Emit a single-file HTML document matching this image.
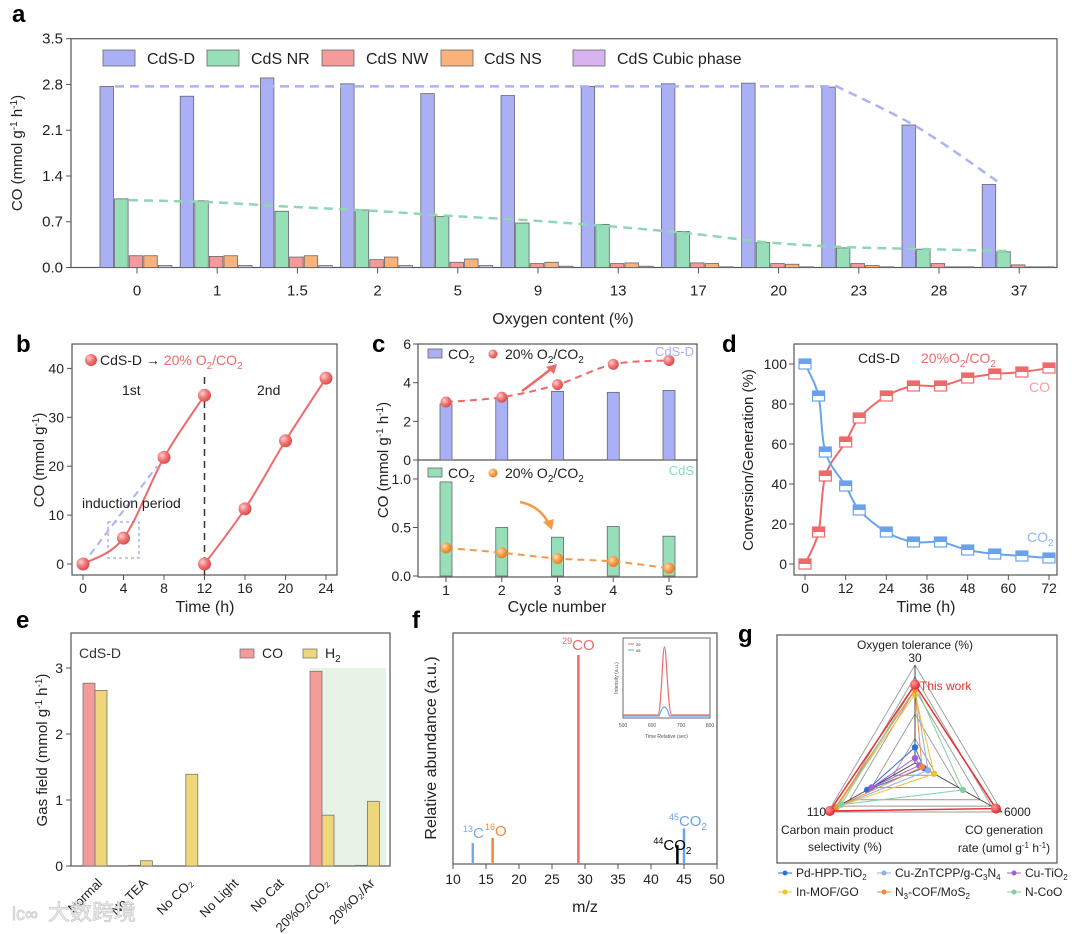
<!DOCTYPE html>
<html><head><meta charset="utf-8">
<style>
html,body{margin:0;padding:0;background:#fff;}
svg{display:block;font-family:"Liberation Sans","Noto Sans CJK SC",sans-serif;}
</style></head>
<body>
<svg id="fig" width="1080" height="934" viewBox="0 0 1080 934" xmlns="http://www.w3.org/2000/svg">
<defs>
<radialGradient id="gRed" cx="0.35" cy="0.35" r="0.7"><stop offset="0" stop-color="#ffd0d0"/><stop offset="0.5" stop-color="#f07878"/><stop offset="1" stop-color="#d84848"/></radialGradient>
<radialGradient id="gOr" cx="0.35" cy="0.35" r="0.7"><stop offset="0" stop-color="#ffe0b8"/><stop offset="0.5" stop-color="#f8a050"/><stop offset="1" stop-color="#e07a20"/></radialGradient>
<radialGradient id="gDot" cx="0.35" cy="0.35" r="0.7"><stop offset="0" stop-color="#ff9a9a"/><stop offset="1" stop-color="#e02020"/></radialGradient>
</defs>
</svg>
<script>
// ---------- DATA ----------
const aCats = ['0','1','1.5','2','5','9','13','17','20','23','28','37'];
const aCdSD = [2.77,2.62,2.90,2.81,2.66,2.63,2.77,2.81,2.82,2.76,2.18,1.27];
const aNR   = [1.05,1.02,0.86,0.88,0.78,0.68,0.66,0.55,0.38,0.30,0.28,0.24];
const aNW   = [0.18,0.17,0.16,0.12,0.08,0.06,0.06,0.07,0.06,0.06,0.06,0.04];
const aNS   = [0.18,0.18,0.18,0.16,0.13,0.08,0.07,0.06,0.05,0.03,0.01,0.01];
const aCub  = [0.03,0.03,0.03,0.03,0.03,0.02,0.02,0.01,0.01,0.01,0.01,0.01];
const aTrendD = [2.77,2.77,2.77,2.77,2.77,2.77,2.77,2.77,2.77,2.77,2.15,1.32];
const aTrendNR = [1.03,1.00,0.93,0.87,0.79,0.72,0.63,0.52,0.38,0.31,0.28,0.25];
const aTicks = [0,0.7,1.4,2.1,2.8,3.5];

const bT1 = [0,4,8,12];   const bV1 = [0,5.3,21.8,34.5];
const bT2 = [12,16,20,24]; const bV2 = [0,11.3,25.2,38];
const bTicksX = [0,4,8,12,16,20,24];
const bTicksY = [0,10,20,30,40];

const cCycles = [1,2,3,4,5];
const cTopBar = [2.9,3.2,3.55,3.5,3.6];
const cTopDot = [3.0,3.25,3.9,4.95,5.15];
const cBotBar = [0.97,0.50,0.40,0.51,0.41];
const cBotDot = [0.29,0.24,0.18,0.15,0.08];

const dTime = [0,4,6,12,16,24,32,40,48,56,64,72];
const dCO   = [0,16,44,61,73,84,89,89,93,95,96,98];
const dCO2  = [100,84,56,39,27,16,11,11,7,5,4,3];
const dTicksX = [0,12,24,36,48,60,72];
const dTicksY = [0,20,40,60,80,100];

const eCats = ['Normal','No TEA','No CO₂','No Light','No Cat','20%O₂/CO₂','20%O₂/Ar'];
const eCO = [2.77,0.01,0,0,0,2.95,0.01];
const eH2 = [2.66,0.08,1.39,0,0,0.77,0.98];

const fMZ = [13,16,29,44,45];
const fAb = [10,12.5,100,9,17];
const fCol = ['#7ba7e0','#f0883a','#ee6a6a','#000000','#6aa3ec'];

const gSeries = ['Pd-HPP-TiO₂','Cu-ZnTCPP/g-C₃N₄','Cu-TiO₂','In-MOF/GO','N₃-COF/MoS₂','N-CoO','This work'];
const gOxy  = [0.16,0.75,0.05,0.70,0.75,0.80,0.80];
const gSel  = [0.55,0.90,0.50,0.90,0.92,0.85,0.98];
const gRate = [0.10,0.15,0.05,0.22,0.08,0.55,0.93];
const gCol  = ['#2f6fd8','#8fb0e0','#a060d0','#f5c030','#f08a40','#80d0a0','#e83030'];

// ---------- helpers ----------
const NS='http://www.w3.org/2000/svg';
const svg=document.getElementById('fig');
function mk(tag,attrs,parent){const e=document.createElementNS(NS,tag);for(const k in attrs)e.setAttribute(k,attrs[k]);(parent||svg).appendChild(e);return e;}
function txt(x,y,s,attrs,parent){const t=mk('text',Object.assign({x:x,y:y,'font-size':14,fill:'#222'},attrs||{}),parent);t.textContent=s;return t;}
function smooth(pts){let d='M'+pts[0][0]+','+pts[0][1];for(let i=0;i<pts.length-1;i++){const p0=pts[i-1]||pts[i],p1=pts[i],p2=pts[i+1],p3=pts[i+2]||p2;const c1x=p1[0]+(p2[0]-p0[0])/6,c1y=p1[1]+(p2[1]-p0[1])/6,c2x=p2[0]-(p3[0]-p1[0])/6,c2y=p2[1]-(p3[1]-p1[1])/6;d+=' C'+c1x+','+c1y+' '+c2x+','+c2y+' '+p2[0]+','+p2[1];}return d;}

// panel labels
[['a',12,22],['b',16,352],['c',372,352],['d',722,352],['e',16,628],['f',412,628],['g',738,642]].forEach(p=>{
  const t=txt(p[1],p[2],p[0],{'font-size':24,'font-weight':'bold',fill:'#000'});
  
  
});

// ================= PANEL A =================
const A={l:71,r:1057,t:38.7,b:267.5};
const ya=v=>A.b-v/3.5*(A.b-A.t);
const xa=i=>137+i*80.2;
const gA=mk('g',{});


const frA=mk('rect',{x:A.l,y:A.t,width:A.r-A.l,height:A.b-A.t,fill:'none',stroke:'#555','stroke-width':1.2},gA);


aTicks.forEach(v=>{
  mk('line',{x1:A.l-5,x2:A.l,y1:ya(v),y2:ya(v),stroke:'#555'},gA);
  const t=txt(A.l-8,ya(v)+5,v.toFixed(1),{'text-anchor':'end','font-size':15},gA);
  
  
});
const aSeries=[aCdSD,aNR,aNW,aNS,aCub];
const aColors=['#aab0f5','#96dfb8','#f59a9a','#f9b27a','#d9b3ef'];
const aNames=['cds-d','cds-nr','cds-nw','cds-ns','cds-cubic'];
aCats.forEach((c,i)=>{
  mk('line',{x1:xa(i),x2:xa(i),y1:A.b,y2:A.b+6,stroke:'#555'},gA);
  const t=txt(xa(i),A.b+28,c,{'text-anchor':'middle','font-size':15},gA);
  
  
  aSeries.forEach((s,k)=>{
    const r=mk('rect',{x:xa(i)-37+k*14.6,y:ya(s[i]),width:13.5,height:A.b-ya(s[i]),fill:aColors[k],stroke:'#666','stroke-width':0.8},gA);
    
    
  });
});
const flatEnd=9;
const tdPts=aTrendD.map((v,i)=>[xa(i)-22,ya(v)]);
const tdA=mk('path',{d:'M'+tdPts[0][0]+','+tdPts[0][1]+' L'+tdPts[flatEnd][0]+','+tdPts[flatEnd][1]+' '+smooth(tdPts.slice(flatEnd)).replace(/^M[^C]*/,''),fill:'none',stroke:'#a9b3f5','stroke-width':2.5,'stroke-dasharray':'9,6'},gA);


const tnA=mk('path',{d:smooth(aTrendNR.map((v,i)=>[xa(i)-8,ya(v)])),fill:'none',stroke:'#8fd6b4','stroke-width':2.5,'stroke-dasharray':'9,6'},gA);


[['CdS-D',103,147],['CdS NR',207,251],['CdS NW',322,366],['CdS NS',441,484],['CdS Cubic phase',573,617]].forEach((l,k)=>{
  const r=mk('rect',{x:l[1],y:50,width:32,height:16,fill:aColors[k],stroke:'#666','stroke-width':0.8},gA);
  
  
  const t=txt(l[2],64,l[0],{'font-size':16},gA);
  
  
});
const ayt=txt(0,0,'',{'font-size':15,'text-anchor':'middle',transform:'translate(22,153) rotate(-90)'},gA);
ayt.innerHTML='CO (mmol g<tspan dy="-5" font-size="10">-1</tspan><tspan dy="5"> h</tspan><tspan dy="-5" font-size="10">-1</tspan><tspan dy="5">)</tspan>';


const axt=txt(563,324,'Oxygen content (%)',{'text-anchor':'middle','font-size':16},gA);



// ================= PANEL B =================
const B={l:72,r:337,t:344,b:575};
const xb=t=>83+t*(243/24);
const yb=v=>564-v*4.89;
const gB=mk('g',{});


mk('rect',{x:B.l,y:B.t,width:B.r-B.l,height:B.b-B.t,fill:'none',stroke:'#555','stroke-width':1.2},gB);
bTicksY.forEach(v=>{mk('line',{x1:B.l-5,x2:B.l,y1:yb(v),y2:yb(v),stroke:'#555'},gB);
  const t=txt(B.l-8,yb(v)+5,String(v),{'text-anchor':'end','font-size':14},gB);
  
  });
bTicksX.forEach(v=>{mk('line',{x1:xb(v),x2:xb(v),y1:B.b,y2:B.b+5,stroke:'#555'},gB);
  const t=txt(xb(v),B.b+18,String(v),{'text-anchor':'middle','font-size':14},gB);
  
  });
mk('line',{x1:83,y1:564,x2:157,y2:yb(20),stroke:'#a9b3f5','stroke-width':2,'stroke-dasharray':'7,5'},gB);
mk('rect',{x:108,y:522,width:31,height:36,fill:'none',stroke:'#a9b3f5','stroke-width':1.5,'stroke-dasharray':'3,3'},gB);
const vdl=mk('line',{x1:xb(12),x2:xb(12),y1:377,y2:B.b,stroke:'#333','stroke-width':1.5,'stroke-dasharray':'7,5'},gB);


[[bT1,bV1,'cycle-1'],[bT2,bV2,'cycle-2']].forEach(s=>{
  const pts=s[0].map((t,i)=>[xb(t),yb(s[1][i])]);
  const p=mk('path',{d:smooth(pts),fill:'none',stroke:'#ee6a6a','stroke-width':2},gB);
  
  
  pts.forEach(q=>{const c=mk('circle',{cx:q[0],cy:q[1],r:6.5,fill:'url(#gRed)'},gB);
    
    });
});
txt(122,395,'1st',{'font-size':14},gB);
txt(257,395,'2nd',{'font-size':14},gB);
txt(82,508,'induction period',{'font-size':14},gB);
mk('circle',{cx:91,cy:360,r:6,fill:'url(#gRed)'},gB);
const bl=txt(100,365,'',{'font-size':14},gB);
bl.innerHTML='CdS-D → <tspan fill="#ee6a6a">20% O<tspan dy="4" font-size="10">2</tspan><tspan dy="-4">/CO</tspan><tspan dy="4" font-size="10">2</tspan></tspan>';


const byt=txt(0,0,'',{'font-size':15,'text-anchor':'middle',transform:'translate(44,460) rotate(-90)'},gB);
byt.innerHTML='CO (mmol g<tspan dy="-5" font-size="10">-1</tspan><tspan dy="5">)</tspan>';


const bxt=txt(205,612,'Time (h)',{'text-anchor':'middle','font-size':16},gB);



// ================= PANEL C =================
const C={l:418,r:697,t:344,m:460,b:577};
const xc=i=>446+(i-1)*55.75;
const yct=v=>460-v*19.33;
const ycb=v=>576-v*97;
const gC=mk('g',{});


mk('rect',{x:C.l,y:C.t,width:C.r-C.l,height:C.b-C.t,fill:'none',stroke:'#555','stroke-width':1.2},gC);
mk('line',{x1:C.l,x2:C.r,y1:C.m,y2:C.m,stroke:'#555','stroke-width':1.2},gC);
[0,2,4,6].forEach(v=>{mk('line',{x1:C.l-5,x2:C.l,y1:yct(v),y2:yct(v),stroke:'#555'},gC);
  const t=txt(C.l-7,yct(v)+5,String(v),{'text-anchor':'end','font-size':14},gC);
  
  });
[0,0.5,1.0].forEach(v=>{mk('line',{x1:C.l-5,x2:C.l,y1:ycb(v),y2:ycb(v),stroke:'#555'},gC);
  const t=txt(C.l-7,ycb(v)+5,v.toFixed(1),{'text-anchor':'end','font-size':14},gC);
  
  });
cCycles.forEach((c,i)=>{
  mk('line',{x1:xc(c),x2:xc(c),y1:C.b,y2:C.b+5,stroke:'#555'},gC);
  const t=txt(xc(c),C.b+18,String(c),{'text-anchor':'middle','font-size':14},gC);
  
  
  const r1=mk('rect',{x:xc(c)-6,y:yct(cTopBar[i]),width:12,height:C.m-yct(cTopBar[i]),fill:'#aab0f5',stroke:'#666','stroke-width':0.8},gC);
  
  
  const r2=mk('rect',{x:xc(c)-6,y:ycb(cBotBar[i]),width:12,height:576-ycb(cBotBar[i]),fill:'#96dfb8',stroke:'#666','stroke-width':0.8},gC);
  
  
});
const ptsT=cCycles.map((c,i)=>[xc(c),yct(cTopDot[i])]);
mk('path',{d:smooth(ptsT),fill:'none',stroke:'#ee6a6a','stroke-width':2,'stroke-dasharray':'7,5'},gC);
ptsT.forEach(q=>{const c=mk('circle',{cx:q[0],cy:q[1],r:5.5,fill:'url(#gRed)'},gC);
  
  });
const ptsB=cCycles.map((c,i)=>[xc(c),ycb(cBotDot[i])]);
mk('path',{d:smooth(ptsB),fill:'none',stroke:'#f39a4a','stroke-width':2,'stroke-dasharray':'7,5'},gC);
ptsB.forEach(q=>{const c=mk('circle',{cx:q[0],cy:q[1],r:5.5,fill:'url(#gOr)'},gC);
  
  });
mk('path',{d:'M522,391 Q540,378 552,368',fill:'none',stroke:'#ee6a6a','stroke-width':2.5},gC);
mk('path',{d:'M557,364 L546,367 L554,374 Z',fill:'#ee6a6a'},gC);
mk('path',{d:'M520,502 Q540,506 549,524',fill:'none',stroke:'#f39a4a','stroke-width':2.5},gC);
mk('path',{d:'M552,530 L543,522 L554,519 Z',fill:'#f39a4a'},gC);
[[354,'#aab0f5','url(#gRed)','CdS-D','#aab0f5'],[473,'#96dfb8','url(#gOr)','CdS','#80dfc0']].forEach(L=>{
  mk('rect',{x:428,y:L[0]-5,width:14,height:9,fill:L[1],stroke:'#666','stroke-width':0.8},gC);
  const a=txt(448,L[0]+5,'',{'font-size':14},gC);a.innerHTML='CO<tspan dy="4" font-size="10">2</tspan>';
  mk('circle',{cx:493,cy:L[0],r:4.5,fill:L[2]},gC);
  const b=txt(505,L[0]+5,'',{'font-size':14},gC);b.innerHTML='20% O<tspan dy="4" font-size="10">2</tspan><tspan dy="-4">/CO</tspan><tspan dy="4" font-size="10">2</tspan>';
  
  
  txt(694,L[0]+2,L[3],{'font-size':13,'text-anchor':'end',fill:L[4]},gC);
});
const cyt=txt(0,0,'',{'font-size':15,'text-anchor':'middle',transform:'translate(388,460) rotate(-90)'},gC);
cyt.innerHTML='CO (mmol g<tspan dy="-5" font-size="10">-1</tspan><tspan dy="5"> h</tspan><tspan dy="-5" font-size="10">-1</tspan><tspan dy="5">)</tspan>';


const cxt=txt(557,612,'Cycle number',{'text-anchor':'middle','font-size':16},gC);



// ================= PANEL D =================
const D={l:794,r:1057,t:344,b:575};
const xd=t=>805+t*(244/72);
const yd=v=>564-v*2;
const gD=mk('g',{});


mk('rect',{x:D.l,y:D.t,width:D.r-D.l,height:D.b-D.t,fill:'none',stroke:'#555','stroke-width':1.2},gD);
dTicksY.forEach(v=>{mk('line',{x1:D.l-5,x2:D.l,y1:yd(v),y2:yd(v),stroke:'#555'},gD);
  const t=txt(D.l-7,yd(v)+5,String(v),{'text-anchor':'end','font-size':14},gD);
  
  });
dTicksX.forEach(v=>{mk('line',{x1:xd(v),x2:xd(v),y1:D.b,y2:D.b+5,stroke:'#555'},gD);
  const t=txt(xd(v),D.b+18,String(v),{'text-anchor':'middle','font-size':14},gD);
  
  });
[[dCO,'#ee6a6a','co'],[dCO2,'#6aa3ec','co2']].forEach(s=>{
  const pts=dTime.map((t,i)=>[xd(t),yd(s[0][i])]);
  const p=mk('path',{d:smooth(pts),fill:'none',stroke:s[1],'stroke-width':2},gD);
  
  
  pts.forEach(q=>{
    const r=mk('rect',{x:q[0]-6,y:q[1]-5,width:12,height:10,fill:'#fff',stroke:s[1],'stroke-width':1.2},gD);
    
    
    mk('rect',{x:q[0]-6,y:q[1]-5,width:12,height:5,fill:s[1]},gD);
  });
});
txt(858,363,'CdS-D',{'font-size':14},gD);
const dl=txt(921,363,'',{'font-size':14,fill:'#ee6a6a'},gD);
dl.innerHTML='20%O<tspan dy="4" font-size="10">2</tspan><tspan dy="-4">/CO</tspan><tspan dy="4" font-size="10">2</tspan>';
txt(1050,392,'CO',{'font-size':14,fill:'#f5a0a0','text-anchor':'end'},gD);
const dc=txt(1027,542,'',{'font-size':14,fill:'#8fb8f0'},gD);dc.innerHTML='CO<tspan dy="4" font-size="10">2</tspan>';
const dyt=txt(0,0,'Conversion/Generation (%)',{'font-size':15,'text-anchor':'middle',transform:'translate(753,460) rotate(-90)'},gD);


const dxt=txt(926,612,'Time (h)',{'text-anchor':'middle','font-size':16},gD);



// ================= PANEL E =================
const E={l:71,r:390,t:633,b:866};
const xe=i=>95+i*45.4;
const ye=v=>866-v*66;
const gE=mk('g',{});


const sh=mk('rect',{x:310,y:ye(3),width:76,height:866-ye(3),fill:'#e6f3e6'},gE);


mk('rect',{x:E.l,y:E.t,width:E.r-E.l,height:E.b-E.t,fill:'none',stroke:'#555','stroke-width':1.2},gE);
[0,1,2,3].forEach(v=>{mk('line',{x1:E.l-5,x2:E.l,y1:ye(v),y2:ye(v),stroke:'#555'},gE);
  const t=txt(E.l-8,ye(v)+5,String(v),{'text-anchor':'end','font-size':14},gE);
  
  });
eCats.forEach((c,i)=>{
  const x=xe(i);
  const r1=mk('rect',{x:x-12,y:ye(eCO[i]),width:12,height:866-ye(eCO[i]),fill:'#f59a9a',stroke:'#777','stroke-width':0.8},gE);
  
  
  const r2=mk('rect',{x:x,y:ye(eH2[i]),width:12,height:866-ye(eH2[i]),fill:'#eed67a',stroke:'#777','stroke-width':0.8},gE);
  
  
  const ax=x+8, ay=884;
  const t=txt(ax,ay,c,{'text-anchor':'end','font-size':13,transform:'rotate(-45 '+ax+' '+ay+')'},gE);
  
  
});
txt(79,658,'CdS-D',{'font-size':14,fill:'#333'},gE);
mk('rect',{x:240,y:649,width:14,height:9,fill:'#f59a9a',stroke:'#777','stroke-width':0.8},gE);
txt(262,658,'CO',{'font-size':14},gE);
mk('rect',{x:303,y:649,width:14,height:9,fill:'#eed67a',stroke:'#777','stroke-width':0.8},gE);
const eh=txt(325,658,'',{'font-size':14},gE);eh.innerHTML='H<tspan dy="4" font-size="10">2</tspan>';
const eyt=txt(0,0,'',{'font-size':15,'text-anchor':'middle',transform:'translate(47,750) rotate(-90)'},gE);
eyt.innerHTML='Gas field (mmol g<tspan dy="-5" font-size="10">-1</tspan><tspan dy="5"> h</tspan><tspan dy="-5" font-size="10">-1</tspan><tspan dy="5">)</tspan>';


const wm=txt(48,920,'大数跨境',{'font-size':22,fill:'#eeeeee',stroke:'#c8c8c8','stroke-width':0.7},gE);


txt(12,920,'lc∞',{'font-size':18,fill:'#eeeeee',stroke:'#c8c8c8','stroke-width':0.7},gE);

// ================= PANEL F =================
const F={l:453,r:717,t:633,b:864};
const xf=m=>453+(m-10)*6.6;
const yf=v=>864-v*2.09;
const gF=mk('g',{});


mk('rect',{x:F.l,y:F.t,width:F.r-F.l,height:F.b-F.t,fill:'none',stroke:'#555','stroke-width':1.2},gF);
[10,15,20,25,30,35,40,45,50].forEach(v=>{mk('line',{x1:xf(v),x2:xf(v),y1:F.b,y2:F.b+5,stroke:'#555'},gF);
  const t=txt(xf(v),F.b+20,String(v),{'text-anchor':'middle','font-size':14},gF);
  
  });
fMZ.forEach((m,i)=>{
  const l=mk('line',{x1:xf(m),x2:xf(m),y1:F.b,y2:yf(fAb[i]),stroke:fCol[i],'stroke-width':2.5},gF);
  
  
});
function iso(x,y,sup,main,sub,col,anchor){const t=txt(x,y,'',{'font-size':15,fill:col,'text-anchor':anchor||'middle'},gF);
  t.innerHTML='<tspan dy="-6" font-size="9">'+sup+'</tspan><tspan dy="6">'+main+'</tspan>'+(sub?'<tspan dy="4" font-size="10">'+sub+'</tspan>':'');return t;}
iso(xf(29),650,'29','CO','',fCol[2]);
iso(463,838,'13','C','',fCol[0],'start');
iso(485,836,'16','O','',fCol[1],'start');
iso(xf(44)-5,850,'44','CO','2','#000');
iso(xf(45)+4,826,'45','CO','2',fCol[4]);
// inset
const ix0=623,ix1=710,iy0=638,iy1=718;
const ins=mk('rect',{x:ix0,y:iy0,width:ix1-ix0,height:iy1-iy0,fill:'#fff',stroke:'#444','stroke-width':0.8},gF);


const ipx=s=>ix0+(s-500)/300*(ix1-ix0);
mk('path',{d:'M'+ix0+','+(iy1-3)+' L'+ipx(620)+','+(iy1-3)+' C'+ipx(632)+','+(iy1-3)+' '+ipx(636)+','+(iy0+9)+' '+ipx(643)+','+(iy0+9)+' C'+ipx(650)+','+(iy0+9)+' '+ipx(655)+','+(iy1-3)+' '+ipx(668)+','+(iy1-3)+' L'+ix1+','+(iy1-3),fill:'none',stroke:'#ee6a6a','stroke-width':1.2},gF);
mk('path',{d:'M'+ix0+','+(iy1-2)+' L'+ipx(625)+','+(iy1-2)+' Q'+ipx(643)+','+(iy1-20)+' '+ipx(660)+','+(iy1-2)+' L'+ix1+','+(iy1-2),fill:'none',stroke:'#6aa3ec','stroke-width':1.2},gF);
[500,600,700,800].forEach(v=>txt(ipx(v),iy1+9,String(v),{'font-size':5,'text-anchor':'middle',fill:'#555'},gF));
txt((ix0+ix1)/2,iy1+20,'Time Relative (sec)',{'font-size':5,'text-anchor':'middle',fill:'#555'},gF);
txt(0,0,'Intensity (a.u.)',{'font-size':5,'text-anchor':'middle',fill:'#555',transform:'translate(618,678) rotate(-90)'},gF);
mk('line',{x1:628,x2:634,y1:644,y2:644,stroke:'#ee6a6a'},gF);txt(636,646,'29',{'font-size':4},gF);
mk('line',{x1:628,x2:634,y1:650,y2:650,stroke:'#6aa3ec'},gF);txt(636,652,'45',{'font-size':4},gF);
const fyt=txt(0,0,'Relative abundance (a.u.)',{'font-size':16,'text-anchor':'middle',transform:'translate(436,748) rotate(-90)'},gF);


const fxt=txt(585,912,'m/z',{'text-anchor':'middle','font-size':16},gF);



// ================= PANEL G =================
const gG=mk('g',{});


mk('rect',{x:777,y:635,width:280,height:228,fill:'none',stroke:'#555','stroke-width':1.2},gG);
const cen=[915,763], vA=[0,-98], vL=[-87,49], vR=[87,49];
const P=(v,f)=>[cen[0]+v[0]*f,cen[1]+v[1]*f];
[0.25,0.5,0.75,0.88,1].forEach(f=>{
  const pts=[P(vA,f),P(vR,f),P(vL,f)];
  mk('polygon',{points:pts.map(p=>p.join(',')).join(' '),fill:'none',stroke:'#999','stroke-width':0.9},gG);
});
[vA,vL,vR].forEach(v=>{const p=P(v,1);mk('line',{x1:cen[0],y1:cen[1],x2:p[0],y2:p[1],stroke:'#444','stroke-width':1},gG);});
gSeries.forEach((s,i)=>{
  const pts=[P(vA,gOxy[i]),P(vR,gRate[i]),P(vL,gSel[i])];
  const pg=mk('polygon',{points:pts.map(p=>p.join(',')).join(' '),fill:'none',stroke:gCol[i],'stroke-width':i===6?1.5:1},gG);
  
  
  pts.forEach(p=>{const m=mk('circle',{cx:p[0],cy:p[1],r:i===6?5:3.2,fill:i===6?'url(#gDot)':gCol[i]},gG);
    
    });
});
txt(920,690,'This work',{'font-size':12,fill:'#e83030'},gG);
txt(915,649,'Oxygen tolerance (%)',{'font-size':12,'text-anchor':'middle'},gG);
txt(915,662,'30',{'font-size':12,'text-anchor':'middle'},gG);
txt(826,816,'110',{'font-size':12,'text-anchor':'end'},gG);
txt(1004,816,'6000',{'font-size':12},gG);
txt(837,834,'Carbon main product',{'font-size':12,'text-anchor':'middle'},gG);
txt(845,851,'selectivity (%)',{'font-size':12,'text-anchor':'middle'},gG);
txt(1004,834,'CO generation',{'font-size':12,'text-anchor':'middle'},gG);
const gr=txt(1004,852,'',{'font-size':12,'text-anchor':'middle'},gG);
gr.innerHTML='rate (umol g<tspan dy="-4" font-size="8">-1</tspan><tspan dy="4"> h</tspan><tspan dy="-4" font-size="8">-1</tspan><tspan dy="4">)</tspan>';
const gLeg=[[0,785,877],[1,884,877],[2,1014,877],[3,785,896],[4,884,896],[5,1014,896]];
const gLegHtml=['Pd-HPP-TiO<tspan dy="3" font-size="8">2</tspan>','Cu-ZnTCPP/g-C<tspan dy="3" font-size="8">3</tspan><tspan dy="-3">N</tspan><tspan dy="3" font-size="8">4</tspan>','Cu-TiO<tspan dy="3" font-size="8">2</tspan>','In-MOF/GO','N<tspan dy="3" font-size="8">3</tspan><tspan dy="-3">-COF/MoS</tspan><tspan dy="3" font-size="8">2</tspan>','N-CoO'];
gLeg.forEach(L=>{
  const i=L[0];
  mk('line',{x1:L[1]-7,x2:L[1]+7,y1:L[2]-4,y2:L[2]-4,stroke:gCol[i],'stroke-width':1},gG);
  mk('circle',{cx:L[1],cy:L[2]-4,r:2.5,fill:gCol[i]},gG);
  const t=txt(L[1]+11,L[2],'',{'font-size':12},gG);
  t.innerHTML=gLegHtml[i];
  
  
});
</script>
</body></html>
